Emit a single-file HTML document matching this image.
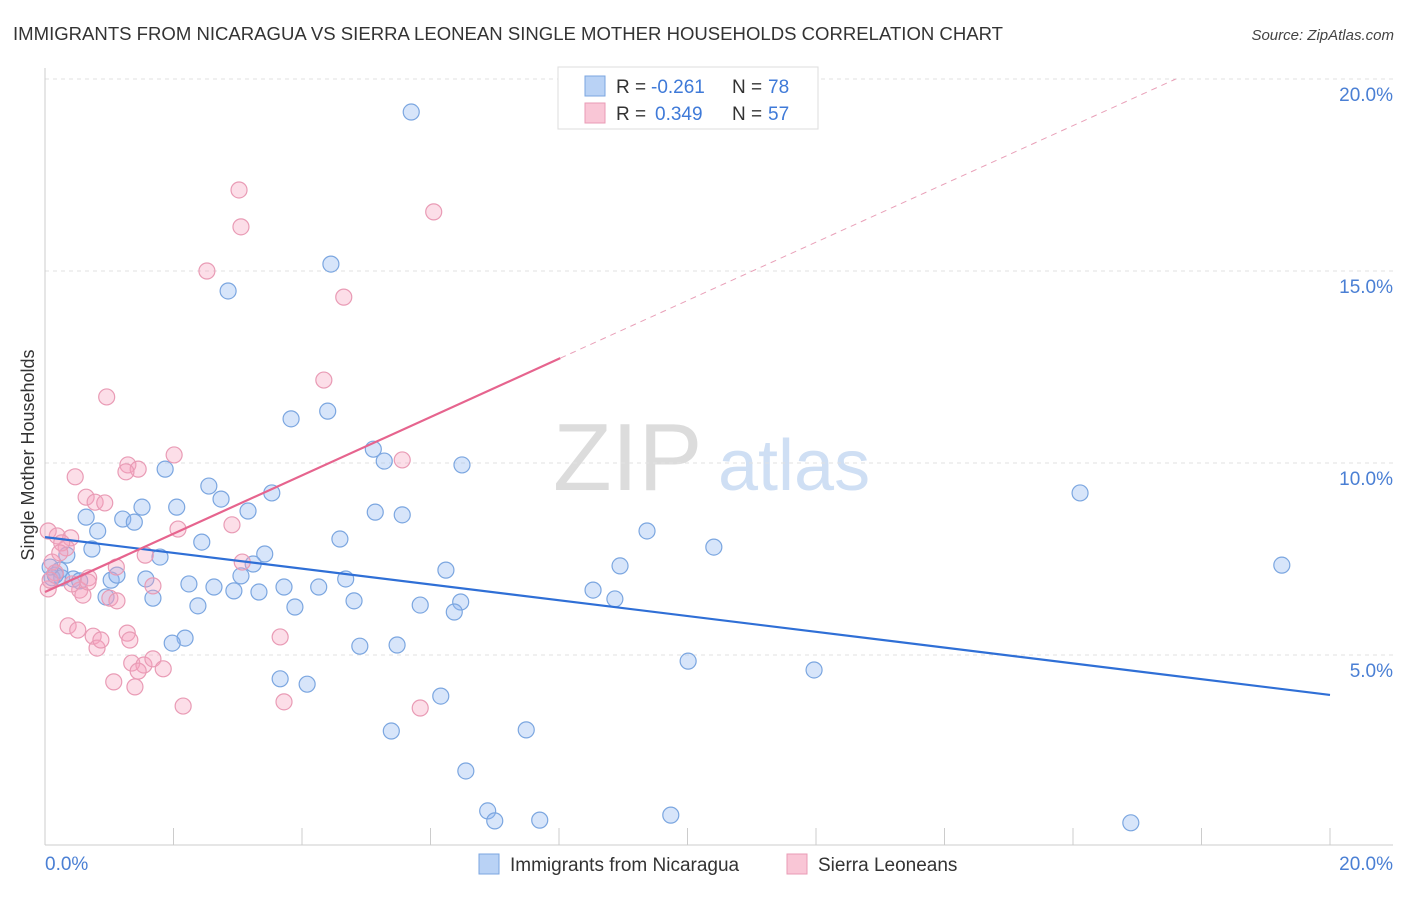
<!DOCTYPE html>
<html><head><meta charset="utf-8"><style>
body{margin:0;background:#fff;font-family:"Liberation Sans",sans-serif}
svg text{font-family:"Liberation Sans",sans-serif}
</style></head><body>
<svg id="chart" width="1406" height="892" xmlns="http://www.w3.org/2000/svg">
<text x="13" y="40" font-size="18" fill="#333" textLength="990" lengthAdjust="spacingAndGlyphs">IMMIGRANTS FROM NICARAGUA VS SIERRA LEONEAN SINGLE MOTHER HOUSEHOLDS CORRELATION CHART</text>
<text x="1394" y="40" font-size="15" fill="#444" text-anchor="end" font-style="italic">Source: ZipAtlas.com</text>
<text x="553" y="490" font-size="96" fill="#dcdcdc" font-family="Liberation Serif">ZIP</text>
<text x="718" y="490" font-size="72" fill="#cfdff4">atlas</text>
<text transform="translate(34,455) rotate(-90)" font-size="18" fill="#333" text-anchor="middle">Single Mother Households</text>
<g id="grid"></g>
<g id="marks"></g>
<g>
<rect x="558" y="67" width="260" height="62" fill="#fff" stroke="#ddd"/>
<rect x="585" y="76" width="20" height="20" fill="#b9d2f5" stroke="#7ba6e0"/>
<rect x="585" y="103" width="20" height="20" fill="#f9c6d6" stroke="#e99bb5"/>
<text x="616" y="93" font-size="19" fill="#333">R =</text>
<text x="651" y="93" font-size="19" fill="#3f7ad8">-0.261</text>
<text x="732" y="93" font-size="19" fill="#333">N =</text>
<text x="768" y="93" font-size="19" fill="#3f7ad8">78</text>
<text x="616" y="120" font-size="19" fill="#333">R =</text>
<text x="655" y="120" font-size="19" fill="#3f7ad8">0.349</text>
<text x="732" y="120" font-size="19" fill="#333">N =</text>
<text x="768" y="120" font-size="19" fill="#3f7ad8">57</text>
</g>
<g>
<rect x="479" y="854" width="20" height="20" fill="#b9d2f5" stroke="#7ba6e0"/>
<text x="510" y="871" font-size="19" fill="#333">Immigrants from Nicaragua</text>
<rect x="787" y="854" width="20" height="20" fill="#f9c6d6" stroke="#e99bb5"/>
<text x="818" y="871" font-size="19" fill="#333">Sierra Leoneans</text>
</g>
</svg>
<script>
const xTickLabels=["0.0%","20.0%"];
const yTicks=[5,10,15,20];
const yTickLabels=["5.0%","10.0%","15.0%","20.0%"];
const blueX=[5.70,4.45,2.85,3.83,4.40,5.11,5.28,6.49,1.87,2.55,2.74,3.53,1.51,2.05,0.64,1.21,1.39,0.82,3.16,5.14,5.56,4.59,2.44,0.73,1.79,3.42,0.34,3.24,6.24,8.95,9.37,10.41,16.11,19.25,0.23,0.11,0.26,0.44,0.54,1.03,1.12,1.57,2.24,2.63,2.94,3.05,3.33,3.72,4.26,4.68,4.81,3.89,2.38,1.68,0.95,5.84,6.47,6.37,8.53,8.87,4.90,5.48,2.18,1.98,10.01,11.97,3.66,4.08,6.16,5.39,7.49,6.55,6.89,7.00,7.70,9.74,16.90,0.16,0.08];
const blueY=[19.14,15.18,14.48,11.15,11.35,10.36,10.05,9.95,9.84,9.40,9.06,9.22,8.85,8.85,8.59,8.54,8.46,8.23,8.75,8.72,8.65,8.02,7.94,7.76,7.55,7.63,7.60,7.37,7.21,7.32,8.23,7.81,9.22,7.34,7.21,7.01,7.01,6.98,6.93,6.95,7.08,6.98,6.85,6.77,6.67,7.06,6.64,6.77,6.77,6.98,6.41,6.25,6.28,6.48,6.51,6.30,6.38,6.12,6.69,6.46,5.23,5.26,5.44,5.31,4.84,4.61,4.38,4.24,3.93,3.02,3.05,1.98,0.94,0.68,0.70,0.83,0.63,7.08,7.29];
const pinkX=[3.02,3.05,6.05,2.52,4.65,4.34,0.96,2.01,5.56,1.29,1.45,1.26,0.47,0.64,0.78,0.93,2.07,2.91,0.05,0.19,0.40,0.33,0.26,1.56,3.07,1.11,0.68,0.11,0.16,0.05,0.54,0.59,1.01,1.12,1.68,0.36,0.51,0.75,0.81,0.87,1.28,1.32,3.66,1.35,1.54,1.68,1.84,1.45,1.07,1.40,2.15,3.72,5.84,0.42,0.67,0.23,0.08];
const pinkY=[17.11,16.15,16.54,15.00,14.32,12.16,11.72,10.21,10.08,9.95,9.84,9.77,9.64,9.11,8.98,8.96,8.28,8.39,8.23,8.10,8.05,7.79,7.92,7.60,7.42,7.29,7.01,7.42,7.14,6.72,6.69,6.56,6.48,6.41,6.80,5.76,5.65,5.49,5.18,5.39,5.57,5.39,5.47,4.79,4.74,4.90,4.64,4.58,4.30,4.17,3.67,3.78,3.62,6.85,6.90,7.66,6.95];
const blueTrend=[[0,8.07],[20,3.96]];
const pinkTrend=[[0,6.64],[8.02,12.73]];
const pinkTrendExt=[[8.02,12.73],[17.6,20]];

const NS="http://www.w3.org/2000/svg";
const X=v=>45+v/20*1285;
const Y=v=>847-v/5*192;
function mk(tag,attrs,parent){const e=document.createElementNS(NS,tag);for(const k in attrs)e.setAttribute(k,attrs[k]);parent.appendChild(e);return e;}
const grid=document.getElementById('grid'),marks=document.getElementById('marks');
yTicks.forEach((t,i)=>{
 let l=mk('line',{x1:45,x2:1393,y1:Y(t),y2:Y(t),stroke:'#e2e2e2','stroke-dasharray':'4,4'},grid);
 
 
 let tx=mk('text',{x:1393,y:Y(t)+22,'font-size':19,fill:'#4a7fd4','text-anchor':'end'},grid);
 tx.textContent=yTickLabels[i];
 
 
});
let ax=mk('line',{x1:45,x2:45,y1:68,y2:845,stroke:'#ccc'},grid);


let bx=mk('line',{x1:45,x2:1393,y1:845,y2:845,stroke:'#ccc'},grid);


for(let i=0;i<=10;i++){
 let t=mk('line',{x1:X(i*2),x2:X(i*2),y1:828,y2:845,stroke:'#ccc'},grid);
 
 
}
[[0,'start'],[20,'end']].forEach((p,i)=>{
 let tx=mk('text',{x:i?1393:45,y:870,'font-size':19,fill:'#4a7fd4','text-anchor':p[1]},grid);
 tx.textContent=xTickLabels[i];
 
 
});
function pts(xs,ys,fill,stroke,name){
 xs.forEach((v,i)=>{
  let c=mk('circle',{cx:X(v),cy:Y(ys[i]),r:8,fill:fill,stroke:stroke,'stroke-width':1.2},marks);
  
  
 });
}
pts(blueX,blueY,'rgba(140,180,240,0.35)','#7ba6e0','nicaragua-point');
pts(pinkX,pinkY,'rgba(245,160,190,0.35)','#e99bb5','sierra-leonean-point');
function line(p,stroke,w,dash,name){
 let l=mk('line',{x1:X(p[0][0]),y1:Y(p[0][1]),x2:X(p[1][0]),y2:Y(p[1][1]),stroke:stroke,'stroke-width':w},marks);
 if(dash)l.setAttribute('stroke-dasharray',dash);
 
 
}
line(blueTrend,'#2f6fd6',2.2,null,'nicaragua-trend-line');
line(pinkTrend,'#e6648e',2.2,null,'sierra-leonean-trend-line');
line(pinkTrendExt,'#e9a0b8',1,'6,5','sierra-leonean-trend-extension');
</script>
</body></html>
